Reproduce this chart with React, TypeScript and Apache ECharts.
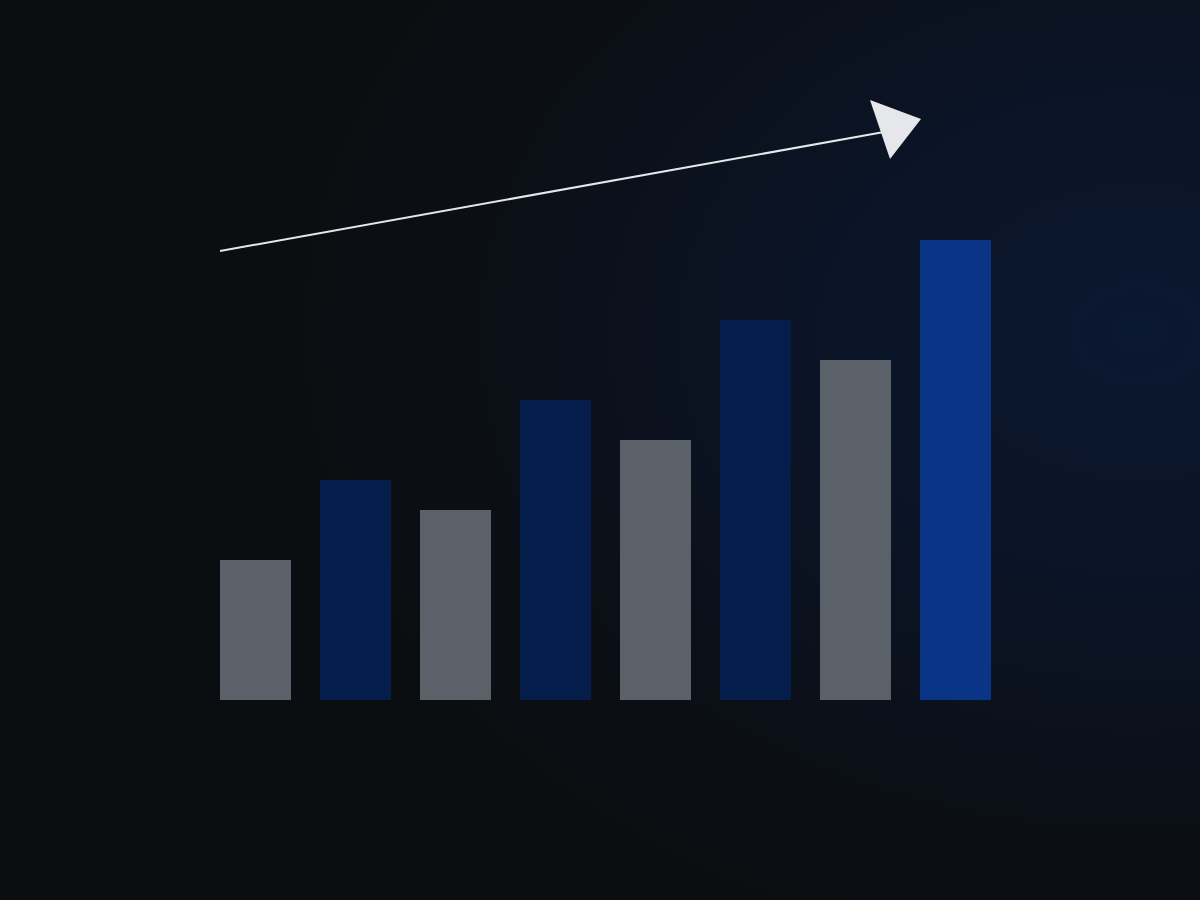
import React, { useEffect, useRef } from "react";
import * as echarts from "echarts";

// categories and bar values (one unit = 10px of bar height)
const categories = ["1", "2", "3", "4", "5", "6", "7", "8"];
const values = [14, 22, 19, 30, 26, 38, 34, 46];

const GREY = "#5b6168";
const NAVY = "#041d4a";
const HIGHLIGHT = "#0a3587";

const App: React.FC = () => {
  const chartRef = useRef<HTMLDivElement>(null);

  useEffect(() => {
    document.body.style.margin = "0";
    if (!chartRef.current) return;
    const chart = echarts.init(chartRef.current, null, { renderer: "svg" });

    chart.setOption({
      animation: false,
      backgroundColor: {
        type: "radial",
        x: 0.95,
        y: 0.37,
        r: 0.7,
        colorStops: [
          { offset: 0, color: "#0a1830" },
          { offset: 0.4, color: "#0b1426" },
          { offset: 0.8, color: "#0b0f15" },
          { offset: 1, color: "#0b0e11" },
        ],
      },
      grid: { left: 205.5, top: 100, width: 800, height: 600 },
      xAxis: {
        type: "category",
        data: categories,
        show: false,
      },
      yAxis: {
        type: "value",
        min: 0,
        max: 60,
        show: false,
      },
      series: [
        {
          type: "bar",
          barWidth: 71,
          data: values.map((v, i) => ({
            value: v,
            itemStyle: {
              // last bar highlighted, the rest alternate grey / navy
              color: i === values.length - 1 ? HIGHLIGHT : i % 2 === 0 ? GREY : NAVY,
            },
          })),
        },
      ],
      graphic: [
        {
          type: "line",
          shape: { x1: 220, y1: 251, x2: 884, y2: 132 },
          style: { stroke: "#e6e7ea", lineWidth: 2 },
        },
        {
          type: "polygon",
          shape: { points: [[870, 100], [921, 119], [890, 159]] },
          style: { fill: "#e6e7ea" },
        },
      ],
    });

    return () => {
      chart.dispose();
    };
  }, []);

  return <div ref={chartRef} style={{ width: "1200px", height: "900px" }}></div>;
};

export default App;
